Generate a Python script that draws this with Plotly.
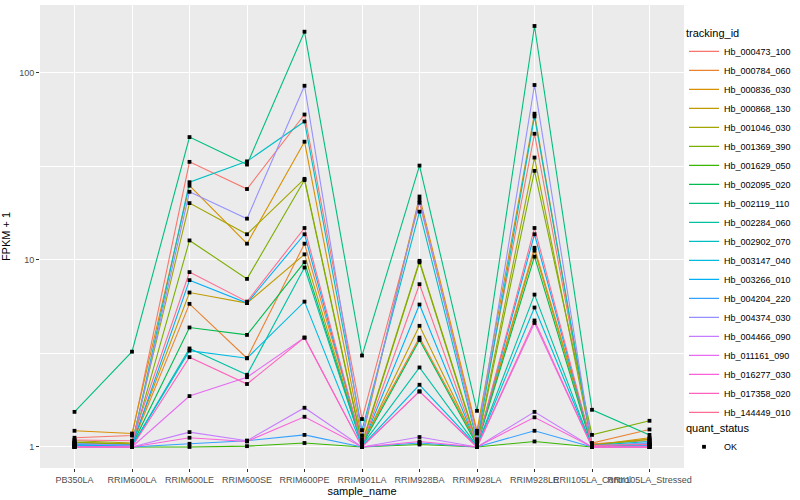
import plotly.graph_objects as go

# ---------------- data ----------------
samples = ["PB350LA", "RRIM600LA", "RRIM600LE", "RRIM600SE", "RRIM600PE",
           "RRIM901LA", "RRIM928BA", "RRIM928LA", "RRIM928LE",
           "RRII105LA_Control", "RRII105LA_Stressed"]

tracking_ids = ["Hb_000473_100", "Hb_000784_060", "Hb_000836_030", "Hb_000868_130",
                "Hb_001046_030", "Hb_001369_390", "Hb_001629_050", "Hb_002095_020",
                "Hb_002119_110", "Hb_002284_060", "Hb_002902_070", "Hb_003147_040",
                "Hb_003266_010", "Hb_004204_220", "Hb_004374_030", "Hb_004466_090",
                "Hb_011161_090", "Hb_016277_030", "Hb_017358_020", "Hb_144449_010"]

# FPKM + 1 values, one list per gene (order follows `samples`)
Hb_000473_100 = [1.12, 1.15, 33.4, 23.9, 59.8, 1.41, 20.2, 1.18, 47.2, 1.04, 1.08]
Hb_000784_060 = [1.05, 1.03, 5.82, 2.98, 12.2, 1.05, 3.84, 1.05, 11.6, 1.05, 1.24]
Hb_000836_030 = [1.22, 1.18, 24.9, 12.2, 42.8, 1.10, 21.8, 1.22, 60.4, 1.02, 1.12]
Hb_000868_130 = [1.06, 1.04, 6.69, 5.87, 10.7, 1.03, 4.44, 1.03, 11.2, 1.03, 1.10]
Hb_001046_030 = [1.08, 1.05, 20.1, 13.7, 27.1, 1.05, 9.88, 1.05, 35.2, 1.02, 1.10]
Hb_001369_390 = [1.06, 1.03, 12.7, 7.91, 26.7, 1.03, 9.70, 1.03, 29.9, 1.16, 1.38]
Hb_001629_050 = [1.00, 1.00, 1.00, 1.01, 1.05, 1.00, 1.03, 1.00, 1.07, 1.00, 1.00]
Hb_002095_020 = [1.03, 1.02, 4.35, 3.97, 9.72, 1.02, 3.73, 1.02, 10.4, 1.00, 1.03]
Hb_002119_110 = [1.54, 3.23, 45.3, 32.3, 165.7, 3.08, 31.9, 1.56, 177.8, 1.58, 1.16]
Hb_002284_060 = [1.02, 1.01, 3.36, 2.43, 9.10, 1.02, 2.66, 1.01, 6.52, 1.00, 1.04]
Hb_002902_070 = [1.04, 1.02, 26.0, 33.6, 54.9, 1.23, 18.1, 1.07, 58.4, 1.02, 1.07]
Hb_003147_040 = [1.02, 1.01, 3.27, 2.98, 5.98, 1.01, 2.15, 1.01, 5.56, 1.00, 1.03]
Hb_003266_010 = [1.03, 1.02, 7.79, 5.87, 13.7, 1.02, 5.77, 1.02, 13.7, 1.01, 1.05]
Hb_004204_220 = [1.01, 1.00, 1.04, 1.08, 1.16, 1.00, 1.05, 1.00, 1.22, 1.00, 1.02]
Hb_004374_030 = [1.04, 1.02, 23.1, 16.6, 85.2, 1.15, 20.9, 1.10, 86.0, 1.01, 1.05]
Hb_004466_090 = [1.00, 1.00, 1.20, 1.08, 1.62, 1.00, 1.13, 1.00, 1.54, 1.00, 1.00]
Hb_011161_090 = [1.00, 1.00, 1.87, 2.36, 3.84, 1.00, 1.98, 1.00, 4.60, 1.00, 1.00]
Hb_016277_030 = [1.00, 1.00, 1.12, 1.07, 1.45, 1.00, 1.07, 1.00, 1.44, 1.00, 1.00]
Hb_017358_020 = [1.00, 1.00, 3.02, 2.17, 3.84, 1.00, 1.98, 1.00, 4.74, 1.00, 1.00]
Hb_144449_010 = [1.09, 1.08, 8.60, 5.98, 14.8, 1.02, 7.41, 1.02, 14.8, 1.02, 1.03]

series_values = [Hb_000473_100, Hb_000784_060, Hb_000836_030, Hb_000868_130,
                 Hb_001046_030, Hb_001369_390, Hb_001629_050, Hb_002095_020,
                 Hb_002119_110, Hb_002284_060, Hb_002902_070, Hb_003147_040,
                 Hb_003266_010, Hb_004204_220, Hb_004374_030, Hb_004466_090,
                 Hb_011161_090, Hb_016277_030, Hb_017358_020, Hb_144449_010]

quant_status = "OK"

y_tick_vals = [1, 10, 100]
y_tick_text = ["1", "10", "100"]
y_minor_vals = [10 ** 0.5, 10 ** 1.5]

# ggplot2 default hue palette for 20 levels
colors = ["#F8766D", "#EA8331", "#D89000", "#C09B00", "#A3A500", "#7CAE00",
          "#39B600", "#00BB4E", "#00BF7D", "#00C1A3", "#00BFC4", "#00BAE0",
          "#00B0F6", "#35A2FF", "#9590FF", "#C77CFF", "#E76BF3", "#FA62DB",
          "#FF62BC", "#FF6C91"]

# ---------------- figure ----------------
FONT = "Liberation Sans, Arial, sans-serif"
fig = go.Figure()

for name, vals, col in zip(tracking_ids, series_values, colors):
    fig.add_trace(go.Scatter(
        x=samples, y=vals, mode="lines", name=name,
        line=dict(color=col, width=1.1),
        legend="legend", hoverinfo="skip"))

all_x = [s for vals in series_values for s in samples]
all_y = [v for vals in series_values for v in vals]
fig.add_trace(go.Scatter(
    x=all_x, y=all_y, mode="markers", name=quant_status,
    marker=dict(symbol="square", size=3.8, color="black"),
    legend="legend2"))

fig.update_layout(
    width=800, height=500,
    margin=dict(l=40, r=116, t=5, b=32, autoexpand=False),
    paper_bgcolor="white", plot_bgcolor="#EBEBEB",
    font=dict(family=FONT, size=9, color="#000000"),
    xaxis=dict(
        type="category", categoryorder="array", categoryarray=samples,
        range=[-0.6, len(samples) - 0.4],
        showgrid=True, gridcolor="white", gridwidth=1.1,
        zeroline=False, showline=False,
        ticks="outside", ticklen=3, tickcolor="#333333", tickwidth=1,
        tickangle=0, tickfont=dict(family=FONT, size=9, color="#4D4D4D"),
        title=dict(text="sample_name", font=dict(family=FONT, size=11, color="black"), standoff=3),
        automargin=False),
    yaxis=dict(
        type="log", range=[-0.1125, 2.362],
        tickmode="array", tickvals=y_tick_vals, ticktext=y_tick_text,
        showgrid=True, gridcolor="white", gridwidth=1.1,
        minor=dict(tickmode="array", tickvals=y_minor_vals, showgrid=True,
                   gridcolor="white", gridwidth=0.55, ticks=""),
        zeroline=False, showline=False,
        ticks="outside", ticklen=3, tickcolor="#333333", tickwidth=1,
        tickfont=dict(family=FONT, size=9, color="#4D4D4D"),
        title=dict(text="FPKM + 1", font=dict(family=FONT, size=11, color="black"), standoff=7),
        automargin=False),
    legend=dict(
        title=dict(text="tracking_id", font=dict(family=FONT, size=11, color="black")),
        x=1.0, xanchor="left", y=0.962, yanchor="top",
        bgcolor="rgba(0,0,0,0)", font=dict(family=FONT, size=9, color="black"),
        itemwidth=30, tracegroupgap=0),
    legend2=dict(
        title=dict(text="quant_status", font=dict(family=FONT, size=11, color="black")),
        x=1.0, xanchor="left", y=0.108, yanchor="top",
        bgcolor="rgba(0,0,0,0)", font=dict(family=FONT, size=9, color="black"),
        itemwidth=30),
    showlegend=True,
)

fig.write_html("out.html", config={"displayModeBar": False},
               post_script="document.body.style.margin='0px';")
